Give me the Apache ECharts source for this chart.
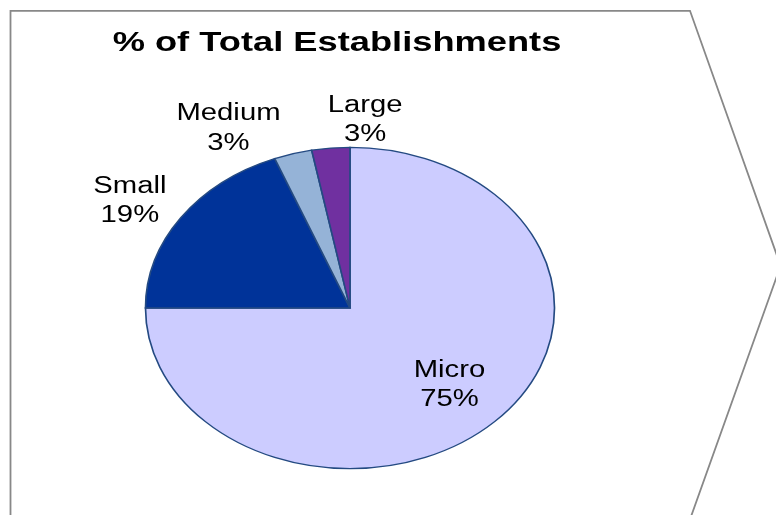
<!DOCTYPE html>
<html>
<head>
<meta charset="utf-8">
<script src="https://cdn.jsdelivr.net/npm/echarts@6/dist/echarts.min.js"></script>
<style>html,body{margin:0;padding:0;background:#fff}#c{width:776px;height:515px}</style>
</head>
<body>
<div id="c"></div>
<script>
const chartTitle = '% of Total Establishments';
const categories = ['Micro', 'Small', 'Medium', 'Large'];
const values = [75, 19, 3, 3];
const pctLabels = ['75%', '19%', '3%', '3%'];

const sliceColors = ['#CCCCFF', '#003399', '#95B3D7', '#7030A0'];
// label placement: [radius factor, angle shift in degrees]
const labelPlacement = [[0.674, -1.2], [1.272, -2], [1.274, -11.6], [1.185, 9]];

const CX = 350, CY = 308, R = 160.7, STRETCH = 1.2726, LABEL_DY = 2;
const FONT = "'Liberation Sans', Arial, sans-serif";

const total = values.reduce((a, b) => a + b, 0);

const chart = echarts.init(document.getElementById('c'), null, {renderer: 'canvas'});
chart.setOption({
  backgroundColor: '#ffffff',
  animation: false,
  graphic: [
    {
      type: 'polyline', silent: true,
      shape: {points: [[10.5, 530], [10.5, 10.8], [690, 10.8], [780.6, 265.7], [688, 525]]},
      style: {stroke: '#888888', lineWidth: 1.8, fill: null}
    },
    {
      type: 'text', x: 337, y: 43, scaleX: STRETCH, originX: 0, silent: true,
      style: {text: chartTitle, font: "bold 28.5px " + FONT, fill: '#000', align: 'center', verticalAlign: 'middle'}
    }
  ],
  series: [{
    type: 'custom',
    coordinateSystem: 'none',
    data: values.map(v => [v]),
    renderItem: function (params, api) {
      const i = params.dataIndex;
      const v = api.value(0);
      let before = 0;
      for (let j = 0; j < i; j++) before += values[j];
      const a0 = -Math.PI / 2 + before / total * Math.PI * 2;
      const a1 = a0 + v / total * Math.PI * 2;
      const mid = (a0 + a1) / 2 + labelPlacement[i][1] * Math.PI / 180;
      const lr = R * labelPlacement[i][0];
      return {
        type: 'group', x: CX, y: CY, scaleX: STRETCH,
        children: [
          {
            type: 'sector',
            shape: {cx: 0, cy: 0, r0: 0, r: R, startAngle: a0, endAngle: a1, clockwise: true},
            style: {fill: sliceColors[i], stroke: '#244a82', lineWidth: 1.3}
          },
          {
            type: 'text', z2: 100,
            x: Math.cos(mid) * lr, y: Math.sin(mid) * lr + LABEL_DY,
            style: {
              text: categories[i] + '\n' + pctLabels[i],
              font: "23px " + FONT, fill: '#000',
              align: 'center', verticalAlign: 'middle', lineHeight: 29.5
            }
          }
        ]
      };
    }
  }]
});
</script>
</body>
</html>
